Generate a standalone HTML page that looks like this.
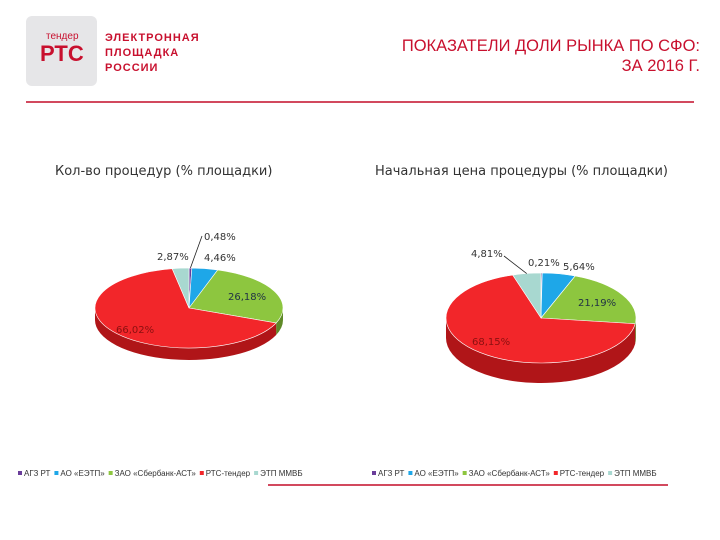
<!DOCTYPE html>
<html><head><meta charset="utf-8"><style>
body{margin:0;width:720px;height:540px;background:#fff;font-family:"Liberation Sans","DejaVu Sans",sans-serif;overflow:hidden;position:relative}
.a{position:absolute}
</style></head><body>
<div class="a" style="left:26px;top:16px;width:71px;height:70px;background:#e6e6e8;border-radius:6px"></div>
<div class="a" style="left:46px;top:31px;font-size:10px;color:#c8102e">тендер</div>
<div class="a" style="left:40px;top:41px;font-size:22px;font-weight:bold;color:#c8102e">РТС</div>
<div class="a" style="left:105px;top:31px;font-size:11px;line-height:15px;color:#c8102e;font-weight:bold;letter-spacing:1px">ЭЛЕКТРОННАЯ<br>ПЛОЩАДКА<br>РОССИИ</div>
<div class="a" style="right:20px;top:36px;text-align:right;font-size:16.5px;line-height:20px;color:#c8102e">ПОКАЗАТЕЛИ ДОЛИ РЫНКА ПО СФО:<br>ЗА 2016 Г.</div>
<div class="a" style="left:26px;top:101px;width:668px;height:2px;background:#d2495e"></div>
<div class="a" style="left:55px;top:164px;font-size:13px;color:#333;font-family:'DejaVu Sans',sans-serif">Кол-во процедур (% площадки)</div>
<div class="a" style="left:375px;top:164px;font-size:13px;color:#333;font-family:'DejaVu Sans',sans-serif">Начальная цена процедуры (% площадки)</div>
<svg class="a" style="left:0;top:0" width="720" height="540" id="svg"></svg>
<div class="a" style="left:268px;top:484px;width:400px;height:2px;background:#d2495e"></div>
<script>
const categories=["АГЗ РТ","АО «ЕЭТП»","ЗАО «Сбербанк-АСТ»","РТС-тендер","ЭТП ММВБ"];
const series1=[0.48,4.46,26.18,66.02,2.87];
const series2=[0.21,5.64,21.19,68.15,4.81];
const labels1=["0,48%","4,46%","26,18%","66,02%","2,87%"];
const labels2=["0,21%","5,64%","21,19%","68,15%","4,81%"];
const colors=["#6a3d9a","#1ea7e8","#8dc63f","#f2262a","#a8d8d0"];
const sides=["#4a2a6a","#1477a8","#5f8a28","#b01518","#78a8a0"];
const svg=document.getElementById('svg');const NS='http://www.w3.org/2000/svg';
function mk(t,a){const e=document.createElementNS(NS,t);for(const k in a)e.setAttribute(k,a[k]);svg.appendChild(e);return e;}
function pie(vals,labs,cx,cy,rx,ry,d,id,lpos,leaders){
 const tot=vals.reduce((a,b)=>a+b,0);
 const pt=(a,dy)=>[cx+rx*Math.sin(a),cy-ry*Math.cos(a)+dy];
 let a0=0;const ang=[];
 vals.forEach(v=>{const a1=a0+v/tot*2*Math.PI;ang.push([a0,a1]);a0=a1;});
 ang.forEach(([s,e],i)=>{
  const s2=Math.max(s,Math.PI/2),e2=Math.min(e,3*Math.PI/2);if(e2<=s2)return;
  const p1=pt(s2,0),p2=pt(e2,0),p3=pt(e2,d),p4=pt(s2,d);
  const p=mk('path',{d:`M${p1}A${rx},${ry} 0 0 1 ${p2}L${p3}A${rx},${ry} 0 0 0 ${p4}Z`,fill:sides[i]});
  
 });
 ang.forEach(([s,e],i)=>{
  const p1=pt(s,0),p2=pt(e,0);const lg=(e-s)>Math.PI?1:0;
  const p=mk('path',{d:`M${cx},${cy}L${p1}A${rx},${ry} 0 ${lg} 1 ${p2}Z`,fill:colors[i],stroke:'#fff','stroke-width':0.6});
  
  const [lx,ly]=lpos[i];
  const t=mk('text',{x:lx,y:ly,'font-size':10,fill:i==3?'#8a1010':(i==2?'#234':'#333'),'font-family':'DejaVu Sans,sans-serif'});
  t.textContent=labs[i];
 });
 leaders.forEach(([i,x2,y2])=>{const[s,e]=ang[i];const p=pt((s+e)/2,0);
  const l=mk('polyline',{points:`${p} ${x2},${y2}`,fill:'none',stroke:'#222','stroke-width':0.8});
  });
}
pie(series1,labels1,189,308,94,40,12,'pie-count',[[204,240],[204,261],[228,300],[116,333],[157,260]],[[0,202,236]]);
pie(series2,labels2,541,318,95,45,20,'pie-price',[[528,266],[563,270],[578,306],[472,345],[471,257]],[[4,504,256]]);
function legend(x,y,id){
 categories.forEach((c,i)=>{
  const r=mk('rect',{x:x,y:y-5,width:4,height:4,fill:colors[i]});
  const t=mk('text',{x:x+6,y:y,'font-size':8,fill:'#333'});t.textContent=c;
  x+=t.getComputedTextLength()+10;
 });
}
legend(18,476,'legend-left');legend(372,476,'legend-right');
</script>
</body></html>
